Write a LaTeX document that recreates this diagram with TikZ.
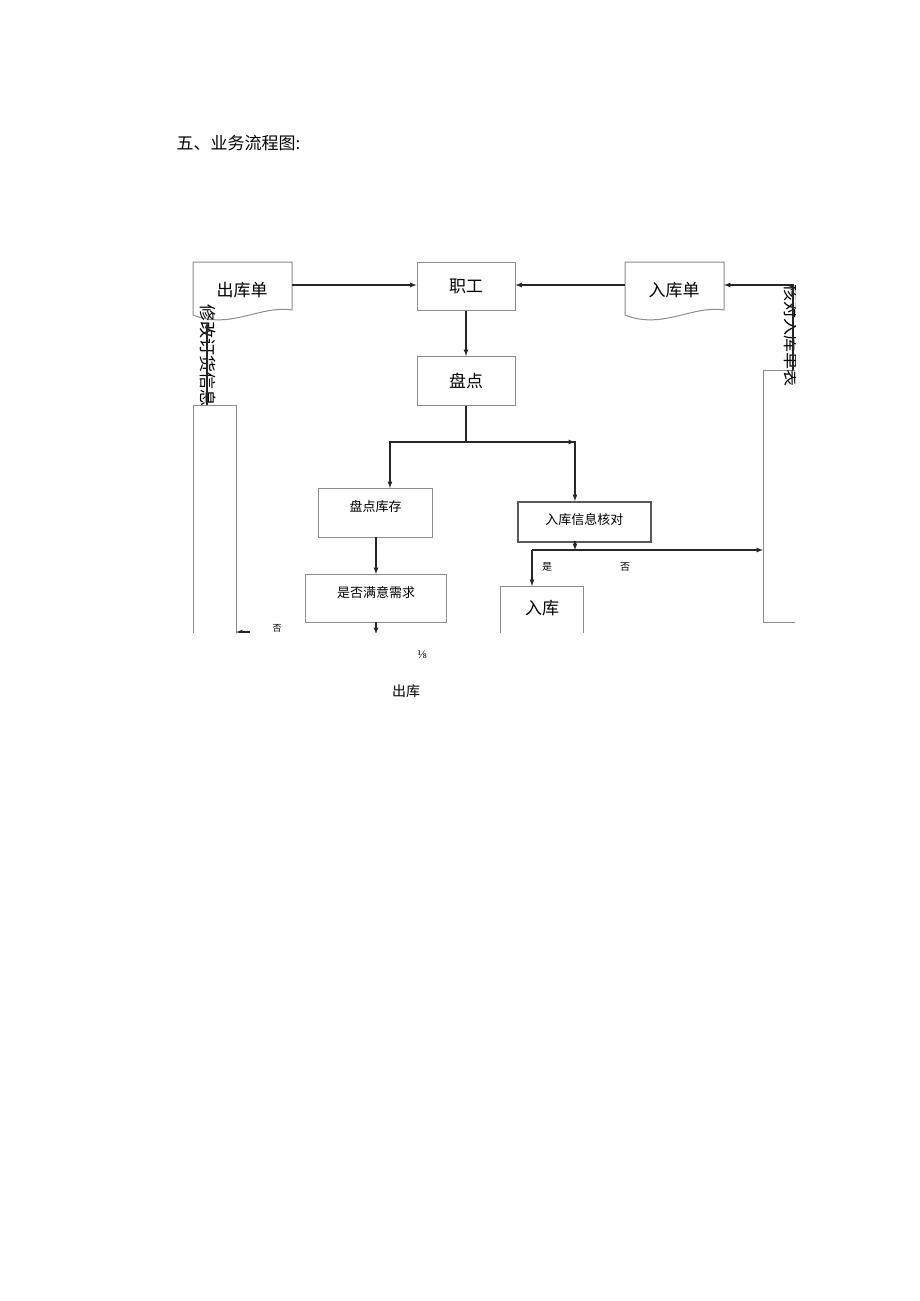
\documentclass[tikz,border=0pt]{standalone}
\usepackage{fontspec}
\setmainfont{Liberation Serif}
\newfontfamily\cjk{Noto Sans CJK SC}
\begin{document}
\begin{tikzpicture}[x=1pt,y=-1pt,
  bx/.style={draw=black!45,line width=1pt,fill=white},
  ar/.style={-latex,line width=1.2pt,draw=black!85},
  ln/.style={line width=1.2pt,draw=black!85},
  lb/.style={font=\cjk\fontsize{17}{17}\selectfont},
  sl/.style={font=\cjk\fontsize{13}{13}\selectfont}]
\useasboundingbox (0,0) rectangle (920,1301);
\node[anchor=west,font=\cjk\fontsize{17}{17}\selectfont] (title) at (173,143) {五、业务流程图:};
\begin{scope}
\clip (150,240) rectangle (795,632);
% documents
\draw[bx] (193,262) -- (292,262) -- (292,310) .. controls (260,305) and (230,330) .. (193,315) -- cycle;
\draw[bx] (625,262) -- (724,262) -- (724,310) .. controls (692,305) and (662,330) .. (625,315) -- cycle;
\node[lb] (out) at (242,290) {出库单};
\node[lb] (in) at (674,290) {入库单};
\coordinate (outR) at (292,285); \coordinate (outB) at (207,322);
\coordinate (inR) at (724,285); \coordinate (inL) at (625,285);
\node[bx,lb,minimum width=98,minimum height=48] (zg) at (466,286) {职工};
\node[bx,lb,minimum width=98,minimum height=49] (pd) at (466,381) {盘点};
\node[bx,sl,minimum width=114,minimum height=49,anchor=north west,text depth=14] (pdkc) at (318,488) {盘点库存};
\node[bx,sl,minimum width=133,minimum height=40,anchor=north west,line width=1.5pt,draw=black!65,text depth=6] (rkxx) at (517,501) {入库信息核对};
\node[bx,sl,minimum width=141,minimum height=48,anchor=north west,text depth=14] (sfmy) at (305,574) {是否满意需求};
\node[bx,lb,minimum width=83,minimum height=60,anchor=north west,text depth=18] (rk) at (500,586) {入库};
\node[bx,minimum width=43,minimum height=240,anchor=north west] (xg) at (193,405) {};
\node[lb,rotate=-90,anchor=east] at (208,410) {修改订货信息};
\node[bx,minimum width=40,minimum height=252,anchor=north west] (hd) at (763,370) {};
\node[lb,rotate=-90,anchor=east] at (792,390) {核对入库单表};
\draw[ar] (outR) -- (zg.west |- outR);
\draw[ar] (inL) -- (zg.east |- inL);
\draw[ar] (793,370) -- (793,285) -- (inR);
\draw[ar] (207,405) -- (outB);
\draw[ar] (zg.south) -- (pd.north);
\draw[ln] (pd.south) -- (466,442) coordinate (j);
\draw[ar] (390,442) -- (575,442) ;
\draw[ar] (j) -| (390,488);
\draw[ar] (j) -| (575,501);
\draw[ar] (376,537) -- (376,574);
\draw[ar] (575,541) -- (575,550);
\draw[ar] (532,550) -- (hd.west |- 0,550);
\draw[ar] (532,550) -- (532,586);
\draw[ar] (376,622) -- (376,634);
\draw[ar] (250,632) -- (236,632);
\node[font=\cjk\fontsize{10}{10}\selectfont] (s) at (547,567) {是};
\node[font=\cjk\fontsize{10}{10}\selectfont] (f) at (625,567) {否};
\node[font=\cjk\fontsize{9}{9}\selectfont] (f2) at (277,628) {否};
\end{scope}
\node[font=\fontsize{12}{12}\selectfont] (eig) at (422,655) {⅛};
\node[font=\cjk\fontsize{14}{14}\selectfont] (ck) at (406,691) {出库};
\end{tikzpicture}
\end{document}
